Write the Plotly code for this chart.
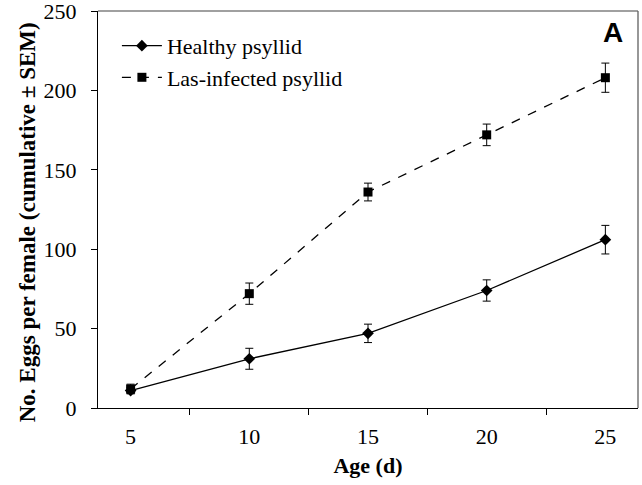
import plotly.graph_objects as go

ages = ["5", "10", "15", "20", "25"]
healthy = [11, 31, 47, 74, 106]
healthy_sem = [2, 6.6, 5.8, 6.7, 9]
infected = [12, 72, 136, 172, 208]
infected_sem = [3, 6.7, 5.6, 6.8, 9.2]
y_ticks = [0, 50, 100, 150, 200, 250]

serif = "Liberation Serif, Times New Roman, serif"

fig = go.Figure()
fig.add_trace(go.Scatter(
    x=ages, y=healthy, name="Healthy psyllid", mode="lines+markers",
    line=dict(color="black", width=1.3),
    marker=dict(symbol="diamond", size=9, color="black"),
    error_y=dict(type="data", array=healthy_sem, color="black", thickness=1, width=4),
))
fig.add_trace(go.Scatter(
    x=ages, y=infected, name="Las-infected psyllid", mode="lines+markers",
    line=dict(color="black", width=1.3, dash="dash"),
    marker=dict(symbol="square", size=9, color="black"),
    error_y=dict(type="data", array=infected_sem, color="black", thickness=1, width=4),
))

fig.update_layout(
    width=642, height=485,
    margin=dict(l=98, r=4, t=11, b=77),
    paper_bgcolor="white", plot_bgcolor="white",
    font=dict(family=serif, size=22, color="black"),
    showlegend=True,
    legend=dict(x=0.035, y=0.965, xanchor="left", yanchor="top",
                font=dict(family=serif, size=22, color="black"),
                itemwidth=40,
                bgcolor="rgba(0,0,0,0)"),
    xaxis=dict(
        type="category", tickson="boundaries", ticks="outside", ticklen=6,
        tickcolor="black", showline=True, linecolor="black", linewidth=1.3,
        showgrid=False, zeroline=False, ticklabelstandoff=8,
        title=dict(text="<b>Age (d)</b>", font=dict(family=serif, size=22), standoff=10),
        tickfont=dict(family=serif, size=22),
    ),
    yaxis=dict(
        range=[0, 250], tickvals=y_ticks, ticks="outside", ticklen=6,
        tickcolor="black", showline=True, linecolor="black", linewidth=1.3,
        showgrid=False, zeroline=False, ticklabelstandoff=10,
        ticklabeloverflow="allow", automargin=False,
        tickfont=dict(family=serif, size=22),
    ),
    shapes=[
        dict(type="line", xref="paper", yref="paper", x0=0, x1=1, y0=1, y1=1,
             line=dict(color="#808080", width=1.5)),
        dict(type="line", xref="paper", yref="paper", x0=1, x1=1, y0=0, y1=1,
             line=dict(color="#606060", width=1.3)),
    ],
    annotations=[
        dict(text="<b>A</b>", xref="paper", yref="paper", x=0.975, y=0.99,
             xanchor="right", yanchor="top", showarrow=False,
             font=dict(family="Liberation Sans, Arial, sans-serif", size=28, color="black")),
        dict(text="<b>No. Eggs per female (cumulative ± SEM)</b>", textangle=-90,
             xref="paper", yref="paper", x=-0.131, y=0.4685,
             xanchor="center", yanchor="middle", showarrow=False,
             font=dict(family=serif, size=23, color="black")),
    ],
)

fig.write_html("out.html", config=dict(displayModeBar=False),
               post_script="document.body.style.margin='0px';")
